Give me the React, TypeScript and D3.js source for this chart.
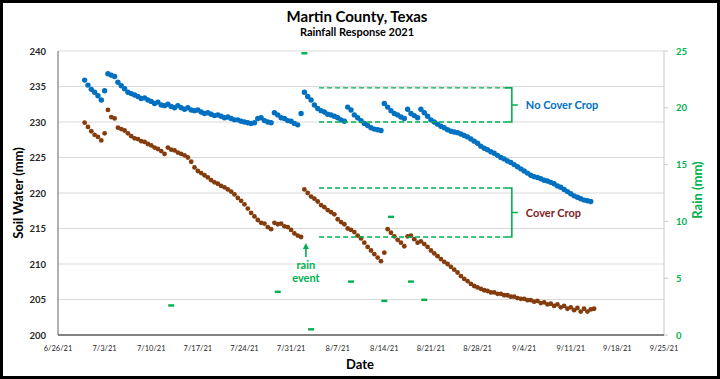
import React from "react";
import * as d3 from "d3";

const W = 720;
const H = 379;

// ---------- data ----------
const xTickLabels = ["6/26/21","7/3/21","7/10/21","7/17/21","7/24/21","7/31/21","8/7/21","8/14/21","8/21/21","8/28/21","9/4/21","9/11/21","9/18/21","9/25/21"];
const soilTicks = [200, 205, 210, 215, 220, 225, 230, 235, 240];
const rainTicks = [0, 5, 10, 15, 20, 25];

// soil water readings, one every 12 hours starting at readingStart
const readingStart = "2021-06-30T00:00";
const readingHours = 12;

const noCoverCrop = [
  235.9,235.2,234.6,234.2,233.7,233.1,234.4,236.8,236.6,236.4,
  235.6,235.1,234.7,234.2,234.0,233.8,233.6,233.3,233.4,233.1,
  232.9,232.6,232.8,232.4,232.3,232.5,232.2,232.0,232.3,232.0,
  231.8,232.0,231.7,231.6,231.7,231.4,231.2,231.3,231.1,230.9,
  231.0,230.8,230.6,230.7,230.5,230.3,230.3,230.1,230.0,229.9,
  229.8,229.9,230.5,230.6,230.2,230.0,229.9,231.3,231.0,230.6,
  230.5,230.2,230.1,229.8,229.6,231.2,234.2,233.6,233.1,232.4,
  231.9,231.6,231.4,231.1,231.0,230.8,230.6,230.3,230.1,232.1,
  231.7,231.0,230.6,230.2,229.8,229.5,229.2,229.0,228.9,228.8,
  232.6,232.1,231.6,231.2,231.0,230.7,230.5,231.8,231.2,230.9,
  230.6,231.8,231.3,230.8,230.3,230.0,229.7,229.4,229.2,228.9,
  228.7,228.6,228.5,228.3,228.1,227.9,227.6,227.3,227.0,226.6,
  226.3,226.1,225.8,225.6,225.3,225.0,224.8,224.5,224.3,224.0,
  223.7,223.4,223.1,222.8,222.5,222.3,222.2,222.0,221.8,221.7,
  221.5,221.3,221.0,220.8,220.5,220.2,219.9,219.6,219.4,219.2,
  219.0,218.9,218.8,
];

const coverCrop = [
  229.9,229.3,228.7,228.2,227.9,227.4,228.4,231.7,230.7,230.5,
  229.2,229.0,228.8,228.4,228.0,227.7,227.6,227.3,227.2,226.9,
  226.7,226.4,226.2,225.9,225.5,226.4,226.1,226.0,225.7,225.5,
  225.3,225.0,224.4,223.6,223.1,222.8,222.5,222.2,221.8,221.5,
  221.3,221.0,220.8,220.5,220.2,219.8,219.3,218.9,218.4,217.8,
  217.2,216.7,216.2,215.8,215.7,215.2,214.9,215.8,215.6,215.7,
  215.3,215.2,214.8,214.3,214.0,213.8,220.5,220.0,219.5,219.2,
  218.8,218.3,218.0,217.6,217.3,217.0,216.3,215.9,215.6,215.0,
  214.8,214.5,214.0,213.6,213.0,212.4,211.9,211.4,210.9,210.4,
  211.6,214.9,214.4,213.9,213.4,213.0,212.5,213.9,214.0,213.5,
  213.0,213.2,212.8,212.4,211.9,211.5,211.1,210.7,210.3,210.0,
  209.6,209.2,208.8,208.3,207.9,207.6,207.2,206.9,206.7,206.5,
  206.3,206.2,206.0,206.0,205.8,205.8,205.6,205.6,205.4,205.4,
  205.2,205.1,205.1,204.9,204.9,204.7,204.8,204.5,204.6,204.3,
  204.4,204.1,204.3,203.9,204.1,203.7,203.9,203.5,203.8,203.3,
  203.7,203.3,203.6,203.7,
];

const rainDates = ["7/13/21","7/29/21","8/2/21","8/3/21","8/9/21","8/14/21","8/15/21","8/18/21","8/20/21"];
const rainMm = [2.6, 3.8, 24.8, 0.5, 4.7, 3.0, 10.4, 4.7, 3.1];

// annotation anchors (data space)
const rainEventDate = "8/2/21";
const bandStartDate = "8/3/21";
const bracketDate = "9/2/21";
const noCoverBand = [230.0, 234.8];
const coverBand = [213.8, 220.7];

// ---------- helpers ----------
const parseTick = d3.timeParse("%m/%d/%y");
const parseISO = d3.timeParse("%Y-%m-%dT%H:%M");

const FONT = "Lato, 'Liberation Sans', Arial, sans-serif";
const BLUE = "#0070c0";
const BROWN = "#843c0c";
const GREEN = "#00b050";
const MAROON = "#7f1d1d";

export default function App() {
  const plotL = 58, plotR = 664, plotT = 51, plotB = 335;
  const x = d3.scaleTime()
    .domain([parseTick(xTickLabels[0])!, parseTick(xTickLabels[xTickLabels.length - 1])!])
    .range([plotL, plotR]);
  const y = d3.scaleLinear().domain([200, 240]).range([plotB, plotT]);
  const yRain = d3.scaleLinear().domain([0, 25]).range([plotB, plotT]);

  const start = parseISO(readingStart)!;
  const toPoints = (vals: number[]) =>
    vals.map((v, i) => ({ t: d3.timeHour.offset(start, i * readingHours), v }));
  const blue = toPoints(noCoverCrop);
  const brown = toPoints(coverCrop);

  const rain = rainDates.map((d, i) => ({ t: parseTick(d)!, v: rainMm[i] }));

  const bandX0 = x(parseTick(bandStartDate)!) + 8;
  const brX = x(parseTick(bracketDate)!) + 1;
  const rainX = x(parseTick(rainEventDate)!) + 1.5;

  const bracket = (band: number[], label: string, color: string) => {
    const yTop = y(band[1]);
    const yBot = y(band[0]);
    const yMid = (yTop + yBot) / 2;
    return (
      <g>
        <line x1={bandX0} x2={brX - 7} y1={yTop} y2={yTop} stroke={GREEN} strokeWidth={1.4} strokeDasharray="5,3" />
        <line x1={bandX0} x2={brX - 7} y1={yBot} y2={yBot} stroke={GREEN} strokeWidth={1.4} strokeDasharray="5,3" />
        <path d={`M${brX - 7},${yTop}H${brX}V${yBot}H${brX - 7}M${brX},${yMid}H${brX + 6}`} fill="none" stroke={GREEN} strokeWidth={1.6} />
        <text x={brX + 14} y={yMid + 4} fontFamily={FONT} fontWeight={700} fontSize={11} fill={color}>{label}</text>
      </g>
    );
  };

  return (
    <svg width={W} height={H} style={{ position: "absolute", left: 0, top: 0, background: "#fff" }}>
      <rect x={1.5} y={1.5} width={W - 3} height={H - 3} fill="#fff" stroke="#000" strokeWidth={3} />

      {/* titles */}
      <text x={357} y={22} textAnchor="middle" fontFamily={FONT} fontWeight={700} fontSize={15} fill="#000">Martin County, Texas</text>
      <text x={357} y={36} textAnchor="middle" fontFamily={FONT} fontWeight={700} fontSize={11} fill="#000">Rainfall Response 2021</text>

      {/* gridlines */}
      {soilTicks.filter(t => t !== 200).map(t => (
        <line key={t} x1={plotL} x2={plotR} y1={y(t)} y2={y(t)} stroke="#d9d9d9" strokeWidth={1} />
      ))}

      {/* axes lines */}
      <line x1={plotR} x2={plotR} y1={plotT} y2={plotB} stroke="#c8c8c8" strokeWidth={1} />
      {rainTicks.map(t => (
        <line key={t} x1={plotR} x2={plotR + 4} y1={yRain(t)} y2={yRain(t)} stroke="#c8c8c8" strokeWidth={1} />
      ))}
      <line x1={plotL} x2={plotL} y1={plotT} y2={plotB} stroke="#7f7f7f" strokeWidth={1.2} />
      <line x1={plotL} x2={plotR} y1={plotB} y2={plotB} stroke="#595959" strokeWidth={1.6} />

      {/* left tick labels */}
      {soilTicks.map(t => (
        <text key={t} x={46} y={y(t) + 3.5} textAnchor="end" fontFamily={FONT} fontWeight={700} fontSize={9.5} fill="#262626">{t}</text>
      ))}
      {/* right tick labels */}
      {rainTicks.map(t => (
        <text key={t} x={676} y={yRain(t) + 3.5} textAnchor="start" fontFamily={FONT} fontWeight={700} fontSize={9.5} fill={GREEN}>{t}</text>
      ))}
      {/* x tick labels */}
      {xTickLabels.map(l => (
        <text key={l} x={x(parseTick(l)!)} y={351} textAnchor="middle" fontFamily={FONT} fontSize={7.5} fill="#262626">{l}</text>
      ))}

      {/* axis titles */}
      <text transform={`translate(23,${(plotT + plotB) / 2}) rotate(-90)`} textAnchor="middle" fontFamily={FONT} fontWeight={700} fontSize={13} fill="#000">Soil Water (mm)</text>
      <text transform={`translate(702,${(plotT + plotB) / 2 - 3}) rotate(-90)`} textAnchor="middle" fontFamily={FONT} fontWeight={700} fontSize={13} fill={GREEN}>Rain (mm)</text>
      <text x={360} y={369} textAnchor="middle" fontFamily={FONT} fontWeight={700} fontSize={13} fill="#000">Date</text>

      {/* rain markers */}
      {rain.map((r, i) => (
        <rect key={i} x={x(r.t) - 3} y={yRain(r.v) - 1.2} width={6} height={2.4} fill={GREEN} />
      ))}

      {/* soil water series */}
      {blue.map((p, i) => (
        <circle key={"b" + i} cx={x(p.t)} cy={y(p.v)} r={2.7} fill={BLUE} />
      ))}
      {brown.map((p, i) => (
        <circle key={"c" + i} cx={x(p.t)} cy={y(p.v)} r={2.4} fill={BROWN} />
      ))}

      {/* annotations */}
      {bracket(noCoverBand, "No Cover Crop", BLUE)}
      {bracket(coverBand, "Cover Crop", MAROON)}

      <line x1={rainX} x2={rainX} y1={257} y2={247} stroke={GREEN} strokeWidth={1.6} />
      <path d={`M${rainX - 3},${249}L${rainX},${243}L${rainX + 3},${249}Z`} fill={GREEN} />
      <text x={rainX} y={269} textAnchor="middle" fontFamily={FONT} fontWeight={700} fontSize={11} fill={GREEN}>rain</text>
      <text x={rainX} y={282} textAnchor="middle" fontFamily={FONT} fontWeight={700} fontSize={11} fill={GREEN}>event</text>
    </svg>
  );
}
